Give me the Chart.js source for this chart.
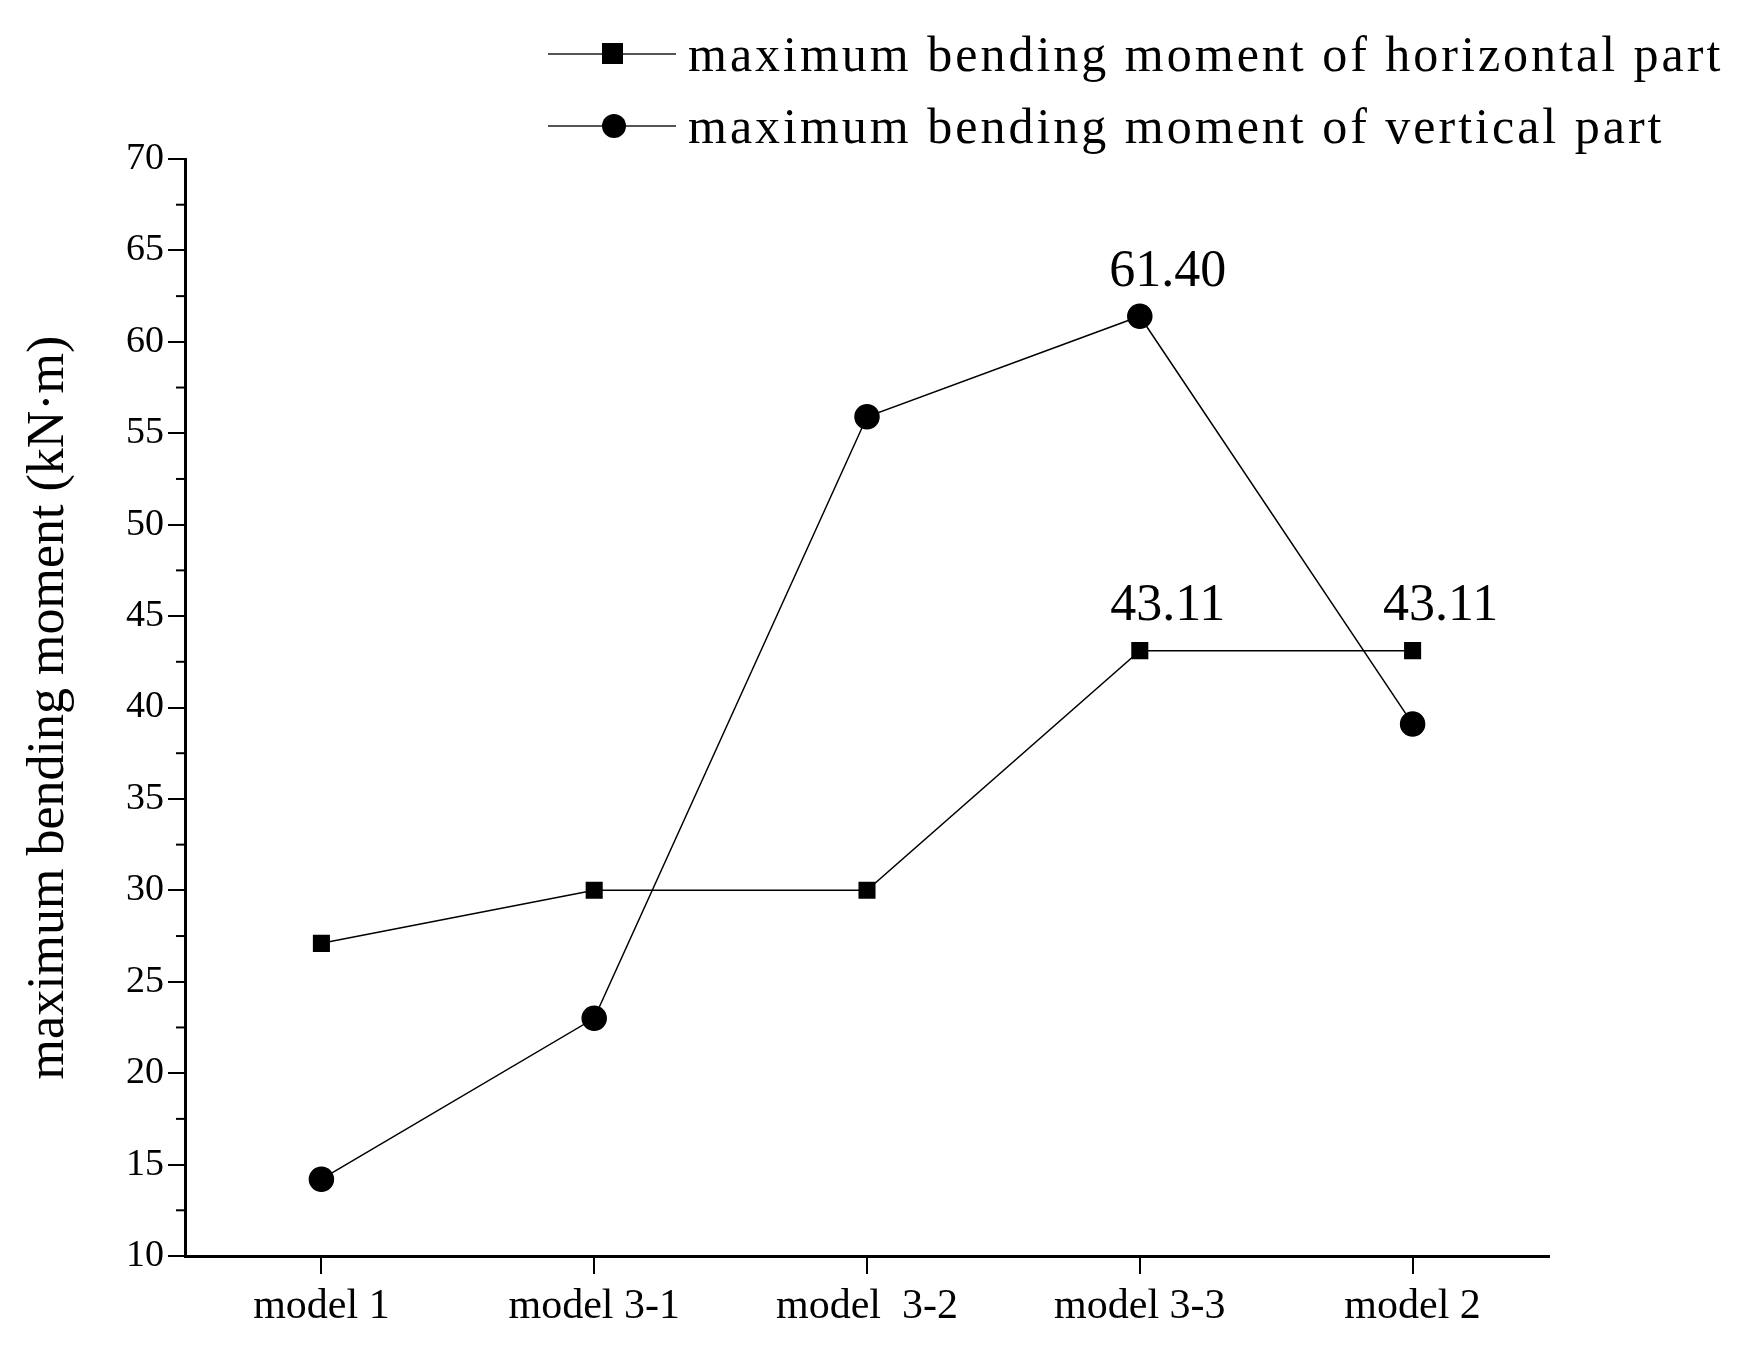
<!DOCTYPE html>
<html><head><meta charset="utf-8">
<script src="https://cdn.jsdelivr.net/npm/chart.js@4"></script>
<style>
body{margin:0;background:#fff;}
#wrap{position:relative;width:1749px;height:1370px;}
.leg{position:absolute;left:548px;font-family:"Liberation Serif";font-size:50px;letter-spacing:3px;color:#000;display:flex;align-items:center;white-space:nowrap;}
.leg .ln{position:relative;width:128px;height:2px;background:#555;margin-right:12px;}
.leg .mk{position:absolute;left:54px;top:-10px;width:21px;height:21px;background:#000;}
.leg .mk.c{border-radius:50%;width:24px;height:24px;top:-11px;}
</style></head><body>
<div id="wrap"><canvas id="c" width="1749" height="1370"></canvas>
<div class="leg" style="top:25px"><div class="ln"><div class="mk"></div></div>maximum bending moment of horizontal part</div>
<div class="leg" style="top:97px"><div class="ln"><div class="mk c"></div></div>maximum bending moment of vertical part</div>
</div>
<script>
const categories=["model 1","model 3-1","model  3-2","model 3-3","model 2"];
const horizontal=[27.1,30.0,30.0,43.11,43.11];
const vertical=[14.2,23.0,55.9,61.40,39.1];
const yTicksMajor=[10,15,20,25,30,35,40,45,50,55,60,65,70];
const labelPoints=[{ds:1,i:3,t:"61.40"},{ds:0,i:3,t:"43.11"},{ds:0,i:4,t:"43.11"}];
const F="Liberation Serif";
const extras={id:'extras',afterDraw(ch){
 const ctx=ch.ctx,y=ch.scales.y,a=ch.chartArea;
 ctx.save();ctx.strokeStyle='#000';ctx.lineWidth=2;
 for(let v=12.5;v<70;v+=5){const py=y.getPixelForValue(v);ctx.beginPath();ctx.moveTo(a.left,py);ctx.lineTo(a.left-9,py);ctx.stroke();}
 ctx.font='52px "'+F+'"';ctx.fillStyle='#000';ctx.textAlign='center';ctx.textBaseline='bottom';
 labelPoints.forEach(p=>{const el=ch.getDatasetMeta(p.ds).data[p.i];ctx.fillText(p.t,el.x+28,el.y-18);});
 ctx.restore();}};
new Chart(document.getElementById('c'),{type:'line',
data:{labels:categories,datasets:[
 {data:horizontal,borderColor:'#000',borderWidth:1.5,pointStyle:'rect',pointRadius:11,pointBackgroundColor:'#000',pointBorderColor:'#000'},
 {data:vertical,borderColor:'#000',borderWidth:1.5,pointStyle:'circle',pointRadius:12,pointBackgroundColor:'#000',pointBorderColor:'#000'}]},
options:{responsive:false,animation:false,devicePixelRatio:1,
 layout:{padding:{top:159,right:200,left:18,bottom:0}},
 plugins:{legend:{display:false},tooltip:{enabled:false}},
 scales:{
  x:{offset:true,grid:{display:true,drawOnChartArea:false,offset:false,tickLength:18,tickColor:'#000',lineWidth:2},
     border:{color:'#000',width:3},
     ticks:{color:'#000',font:{family:F,size:42},padding:8},
     afterFit(s){s.height=114;}},
  y:{min:10,max:70,grid:{drawOnChartArea:false,tickLength:17,tickColor:'#000',lineWidth:2},
     border:{color:'#000',width:3},
     afterBuildTicks(s){s.ticks=yTicksMajor.map(v=>({value:v}));},
     ticks:{color:'#000',font:{family:F,size:38},padding:4},
     title:{display:true,text:'maximum bending moment (kN·m)',color:'#000',font:{family:F,size:52},padding:0},
     afterFit(s){s.width=167;}}}},
plugins:[extras]});
</script></body></html>
